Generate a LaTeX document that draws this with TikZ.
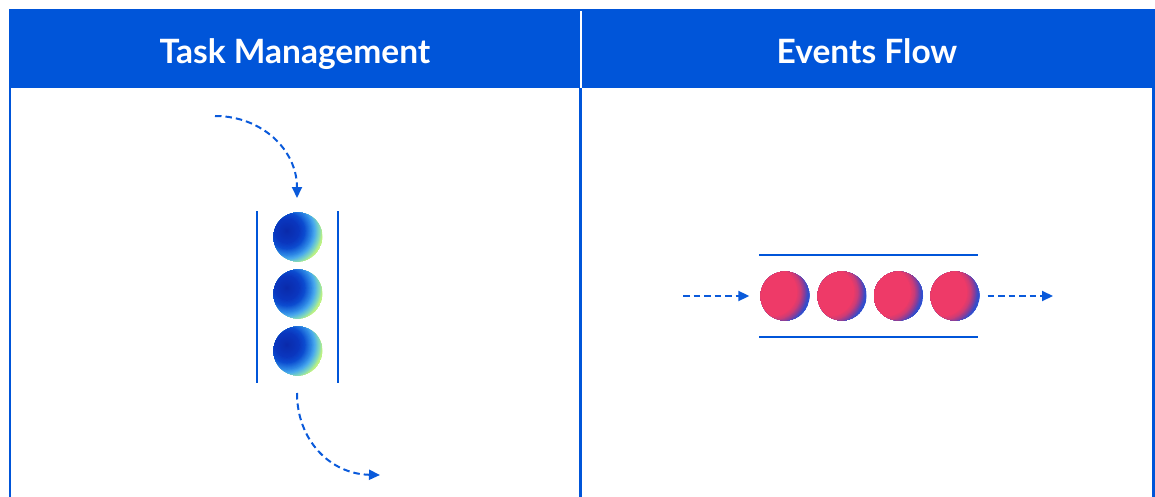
\documentclass[tikz,border=0pt]{standalone}
\usepackage{fontspec}
\setmainfont{Lato}
\usetikzlibrary{arrows.meta}

\definecolor{brand}{HTML}{0055D9}
\definecolor{flow}{HTML}{0A5ADB}
% sphere colours: blue task spheres
\definecolor{bA}{HTML}{0A2AAA}
\definecolor{bB}{HTML}{0A36BE}
\definecolor{bC}{HTML}{0C4CD0}
\definecolor{bD}{HTML}{2A82E4}
\definecolor{bE}{HTML}{4AAAEE}
\definecolor{bF}{HTML}{80D8C0}
\definecolor{bG}{HTML}{BCF284}
% sphere colours: pink event spheres
\definecolor{pA}{HTML}{EE3A68}
\definecolor{pB}{HTML}{CC3C78}
\definecolor{pC}{HTML}{8A3E9A}
\definecolor{pD}{HTML}{3A4CC8}
\definecolor{pE}{HTML}{2A50D8}

% concentric discs around (#1), radius #2 down to #3, colour #4 fading to #5
\newcommand\shadeband[5]{%
  \foreach \k in {0,...,10}{%
    \pgfmathsetmacro\bandr{#2-(#2-#3)*\k/10}%
    \pgfmathtruncatemacro\bandp{10*\k}%
    \fill[#5!\bandp!#4] (#1) circle (\bandr);
  }}

\tikzset{
  header/.style={text=white, font=\fontsize{33.5}{38}\selectfont\bfseries, anchor=base},
  frame/.style={draw=brand, line width=2.2pt},
  rail/.style={draw=brand, line width=2.4pt},
  flowarrow/.style={draw=flow, line width=2pt, dash pattern=on 6.5pt off 4pt,
    -{Triangle[length=11pt,width=10pt]}},
  taskball/.style={circle, minimum size=49pt, inner sep=0pt,
    path picture={
      \coordinate (lc) at ([shift={(-11,-6)}]path picture bounding box.center);
      \fill[bG] (lc) circle (37);
      \shadeband{lc}{35.5}{32.5}{bG}{bF}
      \shadeband{lc}{32.5}{28}{bF}{bE}
      \shadeband{lc}{28}{24}{bE}{bD}
      \shadeband{lc}{24}{18}{bD}{bC}
      \shadeband{lc}{18}{12}{bC}{bB}
      \shadeband{lc}{12}{0.2}{bB}{bA}
    }},
  eventball/.style={circle, minimum size=49pt, inner sep=0pt,
    path picture={
      \coordinate (lc) at ([shift={(-12,-4)}]path picture bounding box.center);
      \fill[pE] (lc) circle (38);
      \shadeband{lc}{37}{35}{pE}{pD}
      \shadeband{lc}{35}{31.5}{pD}{pC}
      \shadeband{lc}{31.5}{28}{pC}{pB}
      \shadeband{lc}{28}{24}{pB}{pA}
      \fill[pA] (lc) circle (24);
    }},
}

\begin{document}
\begin{tikzpicture}[x=1pt,y=-1pt]
\useasboundingbox (0,0) rectangle (1155,497);

% header band
\fill[brand] (9,9) rectangle (1155,88);
\draw[white, line width=2pt] (580.5,11) -- (580.5,88);
\node[header] (hTask) at (295,64) {Task Management};
\node[header] (hFlow) at (867,64) {Events Flow};

% table frame
\draw[frame] (10,88) -- (10,497);
\draw[frame] (580.5,88) -- (580.5,497);
\draw[frame] (1153.5,88) -- (1153.5,497);

% task management: a vertical stack
\draw[rail] (257,211) -- (257,383);
\draw[rail] (338,211) -- (338,383);
\node[taskball] (t1) at (298,237) {};
\node[taskball] (t2) at (298,294) {};
\node[taskball] (t3) at (298,351) {};

\coordinate (tIn) at (215,116);
\coordinate (tInEnd) at (297,198);
\coordinate (tOut) at (297,393);
\coordinate (tOutEnd) at (380,475);
\draw[flowarrow] (tIn) .. controls (262,116) and (297,150) .. (tInEnd);
\draw[flowarrow] (tOut) .. controls (297,440) and (330,474) .. (tOutEnd);

% events flow: a horizontal pipe
\draw[rail] (759,255) -- (978,255);
\draw[rail] (759,337) -- (978,337);
\node[eventball] (e1) at (785,296) {};
\node[eventball] (e2) at (842,296) {};
\node[eventball] (e3) at (898.5,296) {};
\node[eventball] (e4) at (955,296) {};

\coordinate (eIn) at (683,296);
\coordinate (eOut) at (1053,296);
\draw[flowarrow] (eIn) -- ([xshift=-11pt]e1.west);
\draw[flowarrow] ([xshift=8pt]e4.east) -- (eOut);
\end{tikzpicture}
\end{document}
